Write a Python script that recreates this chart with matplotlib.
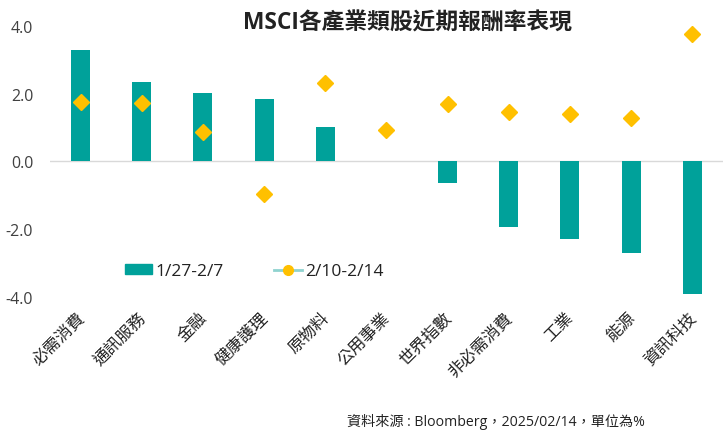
import matplotlib.pyplot as plt
import matplotlib.transforms as mtransforms
from matplotlib.patches import Patch
from matplotlib.lines import Line2D

plt.rcParams['font.family'] = ['Open Sans', 'Noto Sans CJK TC', 'DejaVu Sans']

# Sectors and returns (%)
sectors = ['必需消費', '通訊服務', '金融', '健康護理', '原物料', '公用事業',
           '世界指數', '非必需消費', '工業', '能源', '資訊科技']
week1 = [3.30, 2.34, 2.02, 1.83, 1.03, 0.0, -0.63, -1.93, -2.29, -2.71, -3.92]
week2 = [1.75, 1.73, 0.86, -0.95, 2.32, 0.92, 1.70, 1.45, 1.40, 1.29, 3.75]
yticks = [-4.0, -2.0, 0.0, 2.0, 4.0]

teal = '#00A19A'
yellow = '#FFC000'
text_col = '#404040'

fig = plt.figure(figsize=(7.25, 4.35), dpi=100)
ax = fig.add_axes([0.069, 0.315, 0.928, 0.623])

x = range(len(sectors))
ax.bar(x, week1, width=0.31, color=teal, zorder=2)
ax.plot(x, week2, linestyle='none', marker='D', markersize=8,
        color=yellow, zorder=3)

ax.axhline(0, color='#d9d9d9', linewidth=1, zorder=1)
ax.set_xlim(-0.5, len(sectors) - 0.5)
ax.set_ylim(-4, 4)
ax.set_yticks(yticks)
ax.set_yticklabels(['%.1f' % v for v in yticks], fontsize=11.5, color=text_col)
ax.set_xticks(list(x))
ax.set_xticklabels(sectors, rotation=45, ha='right', rotation_mode='anchor',
                   fontsize=12, color='#222222')
ax.tick_params(axis='both', length=0)
ax.tick_params(axis='x', pad=9)
ax.tick_params(axis='y', pad=12)
for s in ax.spines.values():
    s.set_visible(False)
shift = mtransforms.ScaledTranslation(-0.04, 0, fig.dpi_scale_trans)
for lab in ax.get_xticklabels():
    lab.set_transform(lab.get_transform() + shift)

handles = [Patch(color=teal),
           Line2D([], [], color='#8fd3cf', linewidth=2, marker='o',
                  markersize=7, markerfacecolor=yellow, markeredgecolor=yellow)]
fig.legend(handles, ['1/27-2/7', '2/10-2/14'], ncol=2, frameon=False,
           loc='center left', bbox_to_anchor=(0.172, 0.374), fontsize=12.5,
           handlelength=1.6, handleheight=0.5, handletextpad=0.17,
           columnspacing=2.9, borderpad=0, borderaxespad=0,
           labelcolor='#222222')

fig.text(0.562, 0.947, 'MSCI各產業類股近期報酬率表現', ha='center', va='center',
         fontsize=16.4, fontweight='bold', color='#222222')
fig.text(0.89, 0.03, '資料來源 : Bloomberg，2025/02/14，單位為%', ha='right',
         va='center', fontsize=10.2, color='#222222')

fig.savefig('out.png', dpi=100)
